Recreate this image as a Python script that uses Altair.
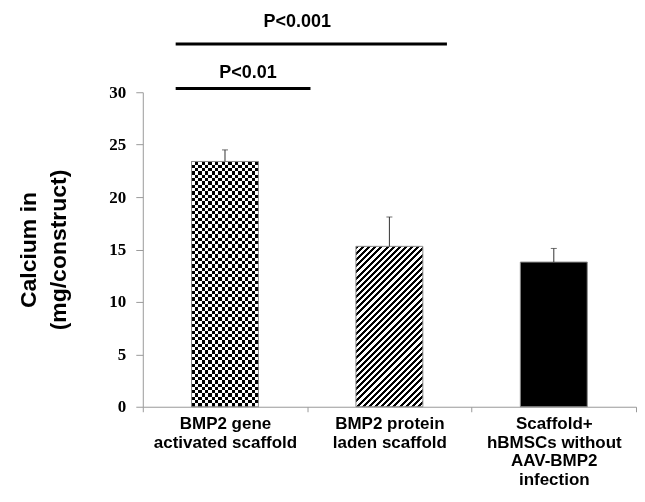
import altair as alt
import pandas as pd

# ---- data ----
categories = ["BMP2 gene|activated scaffold",
              "BMP2 protein|laden scaffold",
              "Scaffold+|hBMSCs without|AAV-BMP2|infection"]
means = [23.4, 15.3, 13.8]
errors = [1.1, 2.8, 1.3]

sig_labels = ["P<0.01", "P<0.001"]
sig_start = [0.2, 0.2]
sig_end = [1.02, 1.85]
sig_line_y = [30.35, 34.6]
sig_text_x = [0.64, 0.94]
sig_text_y = [31.8, 36.7]

y_ticks = [0, 5, 10, 15, 20, 25, 30]
y_title = ["Calcium in", "(mg/construct)"]

bars = pd.DataFrame({"cat": categories, "mean": means, "err": errors})
bars["top"] = bars["mean"] + bars["err"]
sig = pd.DataFrame({"label": sig_labels, "x0": sig_start, "x1": sig_end,
                    "yl": sig_line_y, "tx": sig_text_x, "ty": sig_text_y})

W, H = 494, 315
YDOM = [0, 30]


def stripes(n, x2, y2, c1="black", c2="white"):
    stops = []
    for k in range(n):
        a, m, b = k / n, (k + 0.5) / n, (k + 1) / n
        stops += [{"offset": a, "color": c1}, {"offset": m, "color": c1},
                  {"offset": m, "color": c2}, {"offset": b, "color": c2}]
    return {"gradient": "linear", "x1": 0, "y1": 0, "x2": x2, "y2": y2, "stops": stops}


# diagonal stripe vector for bar 2 (45 degree lines in pixel space)
r = (means[1] * H / 30) / 67.0
dx, dy = (1 + r) / (1 + r * r), r * (1 + r) / (1 + r * r)


def yaxis():
    return alt.Axis(values=y_ticks, title=y_title)


yscale = alt.Scale(domain=YDOM, nice=False)

xenc = alt.X("cat:N", sort=categories,
             scale=alt.Scale(domain=categories, paddingInner=0, paddingOuter=0),
             axis=alt.Axis(title=None, labelExpr="split(datum.label, '|')",
                           labelAngle=0, tickBand="extent", labelLimit=0))
yenc = alt.Y("mean:Q", scale=yscale, axis=yaxis())

base = alt.Chart(bars).encode(x=xenc, y=yenc)
bw = alt.RelativeBandSize(0.407)

b1a = base.transform_filter(alt.datum.cat == categories[0]).mark_bar(
    width=bw, color=stripes(10, 1, 0), strokeOpacity=0)
b1b = base.transform_filter(alt.datum.cat == categories[0]).mark_bar(
    width=bw, color=stripes(37, 0, 1, "white", "black"), blend="difference", strokeOpacity=0)
b2 = base.transform_filter(alt.datum.cat == categories[1]).mark_bar(
    width=bw, color=stripes(37, dx, dy))
b3 = base.transform_filter(alt.datum.cat == categories[2]).mark_bar(
    width=bw, color="black")
outline = base.mark_bar(width=bw, filled=False, stroke="#8a8a8a", strokeWidth=1)

err_rule = base.mark_rule(color="#333", strokeWidth=1).encode(y="mean:Q", y2="top:Q")
err_cap = base.mark_tick(color="#333", size=6, thickness=1).encode(
    y=alt.Y("top:Q", scale=yscale, axis=yaxis()))

bar_layers = alt.layer(b1a, b1b, b2, b3, outline, err_rule, err_cap)

xq = alt.Scale(domain=[0, 3], nice=False, zero=False)
sbase = alt.Chart(sig)
sig_rules = sbase.mark_rule(color="black", strokeWidth=3).encode(
    x=alt.X("x0:Q", scale=xq, axis=None), x2="x1:Q",
    y=alt.Y("yl:Q", scale=yscale, axis=yaxis()))
sig_text = sbase.mark_text(font="Liberation Sans", fontWeight="bold", fontSize=18,
                           color="black").encode(
    x=alt.X("tx:Q", scale=xq, axis=None),
    y=alt.Y("ty:Q", scale=yscale, axis=yaxis()),
    text="label:N")

chart = alt.layer(bar_layers, sig_rules + sig_text).resolve_scale(
    x="independent").properties(
    width=W, height=H,
    padding={"left": 10, "top": 4, "right": 0, "bottom": 0}
).configure_view(stroke=None).configure_axisY(
    domainColor="#9a9a9a", tickColor="#9a9a9a", tickSize=7, grid=False,
    labelFont="Liberation Serif", labelFontWeight="bold", labelFontSize=17,
    labelColor="black", labelPadding=10,
    titleFont="Liberation Sans", titleFontWeight="bold", titleFontSize=23,
    titleColor="black", titleLineHeight=30, titlePadding=38
).configure_axisX(
    domainColor="#9a9a9a", tickColor="#9a9a9a", tickSize=5, grid=False,
    labelFont="Liberation Sans", labelFontWeight="bold", labelFontSize=17,
    labelColor="black", labelLineHeight=18.5, labelPadding=4
)

chart.save("out.html", embed_options={"renderer": "svg", "actions": False})
